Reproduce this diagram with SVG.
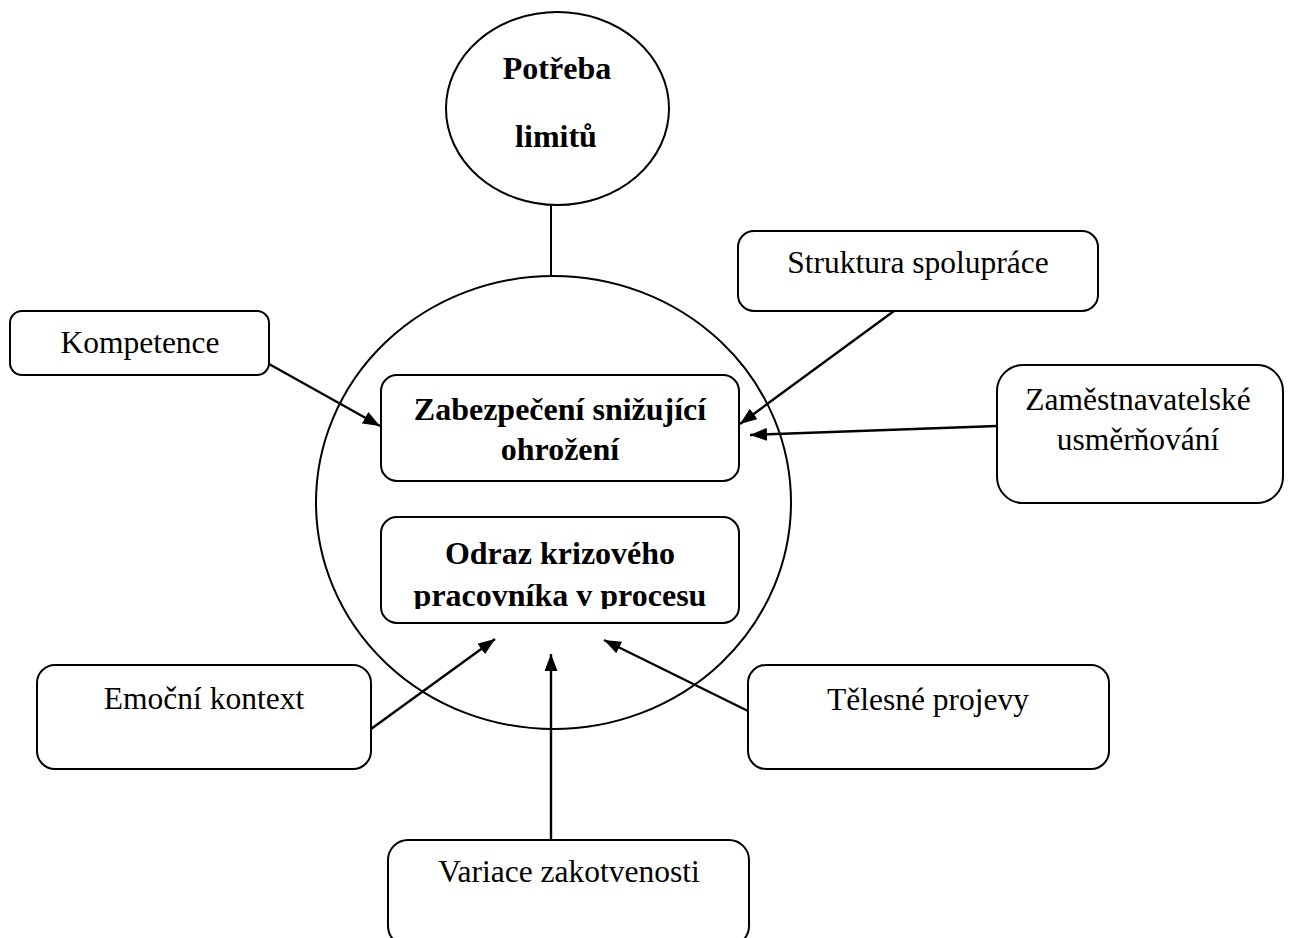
<svg xmlns="http://www.w3.org/2000/svg" width="1289" height="938" viewBox="0 0 1289 938">
<style>
.shape{fill:#fff;stroke:#000;stroke-width:2}
.ring{fill:none;stroke:#000;stroke-width:2}
.lbl{font-family:"Liberation Serif","Times New Roman",serif;font-size:31.5px;text-anchor:middle;fill:#000}
.b{font-weight:bold;font-size:32px}
.conn{stroke:#000;stroke-width:2.4;fill:none}
.plain{stroke:#000;stroke-width:2;fill:none}
</style>
<defs>
<marker id="ah" viewBox="0 0 17 13" refX="17" refY="6.5" markerWidth="17" markerHeight="13" markerUnits="userSpaceOnUse" orient="auto">
<path d="M0,0 L17,6.5 L0,13 z" fill="#000"/>
</marker>
<clipPath id="clipB"><rect x="380" y="515" width="360" height="94"/></clipPath>
</defs>
<rect width="1289" height="938" fill="#fff"/>

<g id="hub">
<ellipse class="ring" cx="553.5" cy="502.5" rx="237.5" ry="226.5"/>
</g>

<g id="connectors">
<line class="plain" x1="551" y1="205" x2="551" y2="276"/>
<line class="conn" x1="269" y1="364" x2="380" y2="426" marker-end="url(#ah)"/>
<line class="conn" x1="894" y1="311" x2="740" y2="424" marker-end="url(#ah)"/>
<line class="conn" x1="997" y1="426" x2="750" y2="435" marker-end="url(#ah)"/>
<line class="conn" x1="371" y1="729" x2="495" y2="639" marker-end="url(#ah)"/>
<line class="conn" x1="551" y1="840" x2="551" y2="654" marker-end="url(#ah)"/>
<line class="conn" x1="748" y1="711" x2="604" y2="640" marker-end="url(#ah)"/>
</g>

<g id="potreba">
<ellipse class="shape" cx="557.5" cy="108.5" rx="111.5" ry="96.5"/>
<text class="lbl b" x="557" y="79">Potřeba</text>
<text class="lbl b" x="556" y="147">limitů</text>
</g>

<g id="kompetence">
<rect class="shape" x="10" y="311" width="259" height="64" rx="12"/>
<text class="lbl" x="140" y="353">Kompetence</text>
</g>

<g id="struktura">
<rect class="shape" x="738" y="231" width="360" height="80" rx="16"/>
<text class="lbl" x="918" y="273">Struktura spolupráce</text>
</g>

<g id="zamestnavatelske">
<rect class="shape" x="997" y="365" width="286" height="138" rx="26"/>
<text class="lbl" x="1138" y="410">Zaměstnavatelské</text>
<text class="lbl" x="1138" y="450">usměrňování</text>
</g>

<g id="zabezpeceni">
<rect class="shape" x="381" y="375" width="358" height="106" rx="16"/>
<text class="lbl b" x="560" y="420">Zabezpečení snižující</text>
<text class="lbl b" x="560" y="460">ohrožení</text>
</g>

<g id="odraz">
<rect class="shape" x="381" y="517" width="358" height="106" rx="16"/>
<g clip-path="url(#clipB)">
<text class="lbl b" x="560" y="564">Odraz krizového</text>
<text class="lbl b" x="560" y="606">pracovníka v procesu</text>
</g>
</g>

<g id="emocni">
<rect class="shape" x="37" y="665" width="334" height="104" rx="18"/>
<text class="lbl" x="204" y="709">Emoční kontext</text>
</g>

<g id="telesne">
<rect class="shape" x="748" y="665" width="361" height="104" rx="18"/>
<text class="lbl" x="928" y="710">Tělesné projevy</text>
</g>

<g id="variace">
<rect class="shape" x="388" y="840" width="361" height="106" rx="20"/>
<text class="lbl" x="569" y="882">Variace zakotvenosti</text>
</g>
</svg>
